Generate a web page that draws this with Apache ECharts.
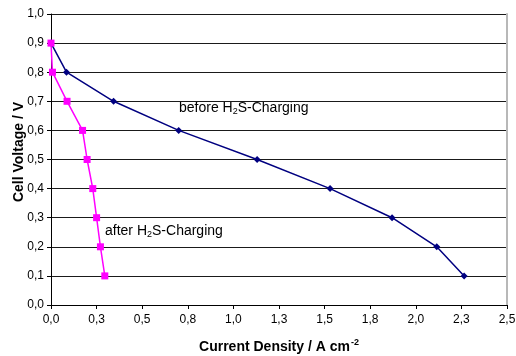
<!DOCTYPE html>
<html><head><meta charset="utf-8">
<script src="https://cdn.jsdelivr.net/npm/echarts@6/dist/echarts.min.js"></script>
<style>html,body{margin:0;padding:0;background:#fff}#c{width:516px;height:356px}</style>
</head><body><div id="c"></div>
<script>
const voltage = [0.9, 0.8, 0.7, 0.6, 0.5, 0.4, 0.3, 0.2, 0.1];
const beforeCurrent = [0.0, 0.085, 0.343, 0.70, 1.13, 1.53, 1.87, 2.115, 2.265];
const afterCurrent = [0.0, 0.008, 0.088, 0.173, 0.198, 0.229, 0.250, 0.271, 0.295];
const beforeLabel = 'before H₂S-Charging';
const afterLabel = 'after H₂S-Charging';
const xName = 'Current Density / A cm⁻²';
const yName = 'Cell Voltage / V';

const fmt = v => (Math.round(v * 10 + 1e-9) / 10).toFixed(1).replace('.', ',');
const chart = echarts.init(document.getElementById('c'));
const font = 'Liberation Sans, Arial, sans-serif';
chart.setOption({
  animation: false,
  grid: { left: 51, right: 9, top: 14, bottom: 51, outerBoundsMode: 'none', containLabel: false },
  xAxis: {
    type: 'value', min: 0, max: 2.5, interval: 0.25,
    name: '{t|Current Density / A cm}{s|-2}', nameLocation: 'middle', nameGap: 33,
    nameTextStyle: { rich: {
      t: { fontFamily: font, fontWeight: 'bold', fontSize: 14, color: '#000', letterSpacing: -0.4 },
      s: { fontFamily: font, fontWeight: 'bold', fontSize: 9, color: '#000', verticalAlign: 'top', padding: [0, 0, 9, 1] }
    } },
    axisLine: { lineStyle: { color: '#000', width: 1 } },
    axisTick: { show: true, length: 4, lineStyle: { color: '#000' } },
    axisLabel: { formatter: fmt, fontFamily: font, fontSize: 12, color: '#000', margin: 9 },
    splitLine: { show: false }
  },
  yAxis: [{
    type: 'value', min: 0, max: 1.0, interval: 0.1,
    axisLine: { show: true, lineStyle: { color: '#000', width: 1 } },
    axisTick: { show: true, length: 4, lineStyle: { color: '#000' } },
    axisLabel: { formatter: fmt, fontFamily: font, fontSize: 12, color: '#000', margin: 7 },
    splitLine: { show: true, lineStyle: { color: '#1a1a1a', width: 1 } }
  }, {
    type: 'value', min: 0, max: 1.0, interval: 0.1, position: 'right',
    axisLine: { show: true, lineStyle: { color: '#b8b8b8', width: 2 } },
    axisTick: { show: false }, axisLabel: { show: false }, splitLine: { show: false }
  }],
  series: [{
    type: 'line', name: beforeLabel,
    data: beforeCurrent.map((x, i) => [x, voltage[i]]),
    symbol: 'diamond', symbolSize: 7,
    lineStyle: { color: '#000080', width: 1.5 },
    itemStyle: { color: '#000080' }
  }, {
    type: 'line', name: afterLabel,
    data: afterCurrent.map((x, i) => [x, voltage[i]]),
    symbol: 'rect', symbolSize: 7,
    lineStyle: { color: '#ff00ff', width: 1.5 },
    itemStyle: { color: '#ff00ff' }
  }],
  graphic: [{
    type: 'text', x: 19, y: 152, rotation: Math.PI / 2,
    style: { text: yName, fontFamily: font, fontWeight: 'bold', fontSize: 14, fill: '#000', align: 'center', verticalAlign: 'middle' }
  }, {
    type: 'text', left: 179, top: 101,
    style: { text: '{a|before H}{s|2}{a|S-Charging}', rich: {
      a: { fontFamily: font, fontSize: 14, fill: '#000', letterSpacing: -0.2 },
      s: { fontFamily: font, fontSize: 9, fill: '#000', verticalAlign: 'bottom', padding: [7, 0, 0, 0] } } }
  }, {
    type: 'text', left: 105, top: 224,
    style: { text: '{a|after H}{s|2}{a|S-Charging}', rich: {
      a: { fontFamily: font, fontSize: 14, fill: '#000', letterSpacing: -0.2 },
      s: { fontFamily: font, fontSize: 9, fill: '#000', verticalAlign: 'bottom', padding: [7, 0, 0, 0] } } }
  }]
});
</script></body></html>
